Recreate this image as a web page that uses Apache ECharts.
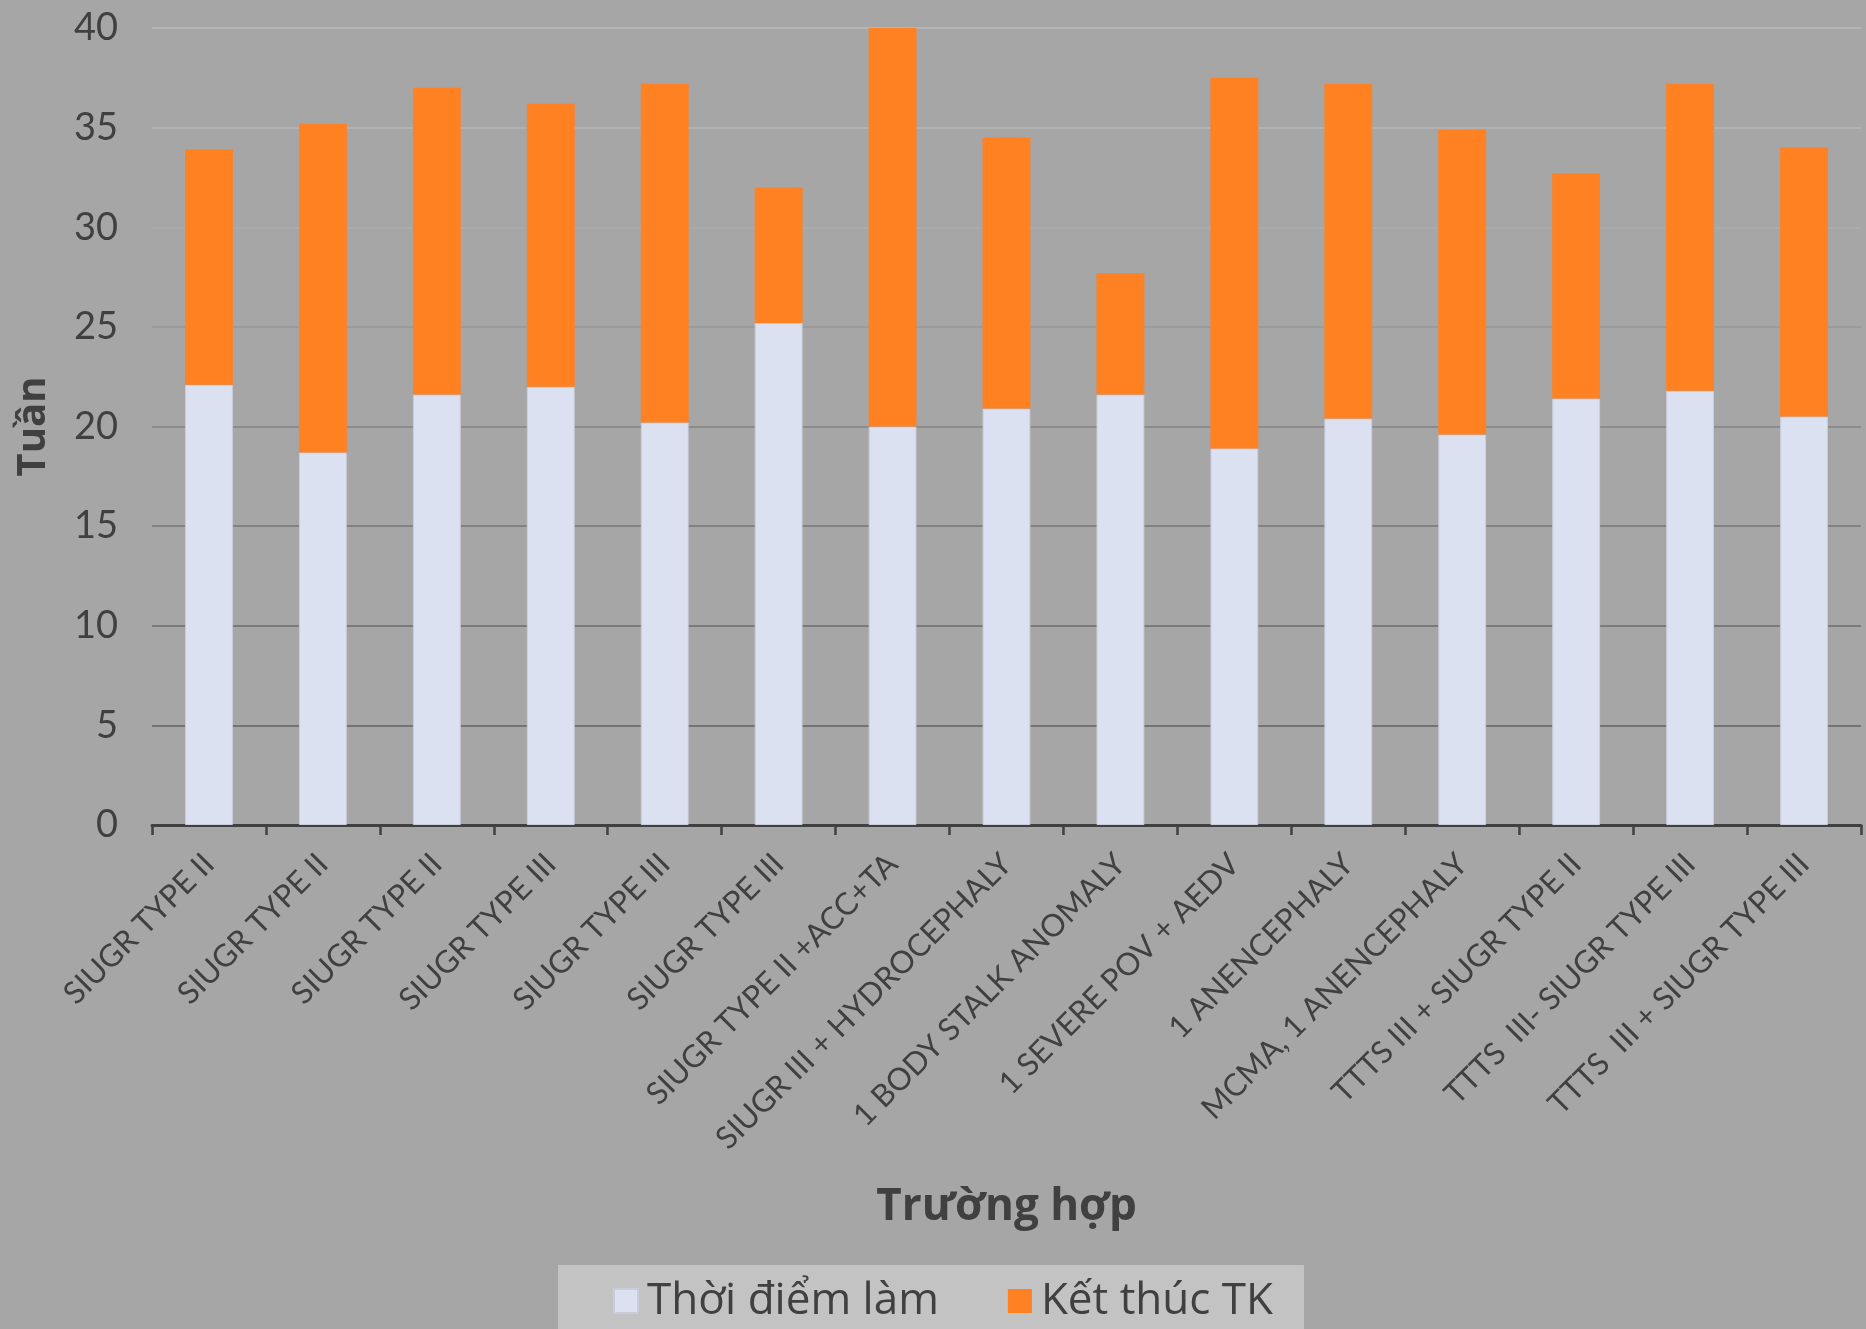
<!DOCTYPE html>
<html>
<head>
<meta charset="utf-8">
<title>Thời điểm làm và kết thúc thai kỳ theo trường hợp</title>
<script src="https://cdn.jsdelivr.net/npm/echarts@6/dist/echarts.min.js"></script>
<style>
  html, body { margin: 0; padding: 0; background: #a6a6a6; }
  #chart { width: 1866px; height: 1329px; }
</style>
</head>
<body>
<div id="chart"></div>
<script>
// Cases (one bar per case)
const cases = [
  'SIUGR TYPE II', 'SIUGR TYPE II', 'SIUGR TYPE II', 'SIUGR TYPE III', 'SIUGR TYPE III',
  'SIUGR TYPE III', 'SIUGR TYPE II +ACC+TA', 'SIUGR III + HYDROCEPHALY', '1 BODY STALK ANOMALY',
  '1 SEVERE POV + AEDV', '1 ANENCEPHALY', 'MCMA, 1 ANENCEPHALY', 'TTTS III + SIUGR TYPE II',
  'TTTS  III- SIUGR TYPE III', 'TTTS  III + SIUGR TYPE III'
];

// Gestational week at the procedure
const procedureWeek = [22.1, 18.7, 21.6, 22.0, 20.2, 25.2, 20.0, 20.9, 21.6, 18.9, 20.4, 19.6, 21.4, 21.8, 20.5];

// Additional weeks until the pregnancy ended (stacked on top)
const weeksToEnd = [11.8, 16.5, 15.4, 14.2, 17.0, 6.8, 20.0, 13.6, 6.1, 18.6, 16.8, 15.3, 11.3, 15.4, 13.5];

// Value axis ticks
const weekTicks = [0, 5, 10, 15, 20, 25, 30, 35, 40];

const seriesNames = ['Thời điểm làm', 'Kết thúc TK'];
const seriesColors = ['#dce1f2', '#ff8122'];

// Grid lines fade from dark at the bottom to light at the top
const gridLineColors = ['#6e6e6e', '#737373', '#7a7a7a', '#828282', '#8c8c8c', '#9b9b9b', '#ababab', '#b2b2b2', '#b5b5b5'];

const textColor = '#404040';
const labelFont = 'Lato, "Open Sans", sans-serif';
const viFont = '"Open Sans", "Noto Sans", sans-serif';

const chart = echarts.init(document.getElementById('chart'), null, { renderer: 'canvas' });

chart.setOption({
  backgroundColor: '#a6a6a6',
  animation: false,
  grid: { left: 152, right: 5, top: 28, bottom: 504, containLabel: false },
  legend: {
    data: seriesNames,
    left: 558,
    top: 1265,
    backgroundColor: '#c3c3c3',
    padding: [14, 31, 10, 55],
    itemGap: 69,
    itemWidth: 24,
    itemHeight: 24,
    icon: 'rect',
    textStyle: { color: textColor, fontSize: 44, fontFamily: viFont, padding: [0, 0, 0, 4] }
  },
  xAxis: {
    type: 'category',
    data: cases,
    name: 'Trường hợp',
    nameLocation: 'middle',
    nameGap: 360,
    nameTextStyle: { color: textColor, fontSize: 44, fontWeight: 'bold', fontFamily: viFont },
    axisLine: { show: true, lineStyle: { color: '#404040', width: 3 } },
    axisTick: { show: true, alignWithLabel: false, length: 10, lineStyle: { color: '#404040', width: 2.5 } },
    axisLabel: {
      interval: 0,
      rotate: 45,
      margin: 34,
      color: textColor,
      fontSize: 31,
      fontFamily: labelFont
    },
    splitLine: { show: false }
  },
  yAxis: {
    type: 'value',
    min: 0,
    max: 40,
    interval: 5,
    name: 'Tuần',
    nameLocation: 'middle',
    nameGap: 98,
    nameTextStyle: { color: textColor, fontSize: 40, fontWeight: 'bold', fontFamily: viFont },
    axisLine: { show: false },
    axisTick: { show: false },
    axisLabel: {
      color: textColor,
      fontSize: 38,
      margin: 34,
      fontFamily: labelFont,
      formatter: v => (weekTicks.includes(v) ? String(v) : '')
    },
    splitLine: { show: true, lineStyle: { color: gridLineColors, width: 2 } }
  },
  series: [
    {
      name: seriesNames[0],
      type: 'bar',
      stack: 'weeks',
      data: procedureWeek,
      barCategoryGap: '58%',
      itemStyle: { color: seriesColors[0], borderColor: '#c9ccd9', borderWidth: 1 }
    },
    {
      name: seriesNames[1],
      type: 'bar',
      stack: 'weeks',
      data: weeksToEnd,
      barCategoryGap: '58%',
      itemStyle: { color: seriesColors[1] }
    }
  ]
});
</script>
</body>
</html>
